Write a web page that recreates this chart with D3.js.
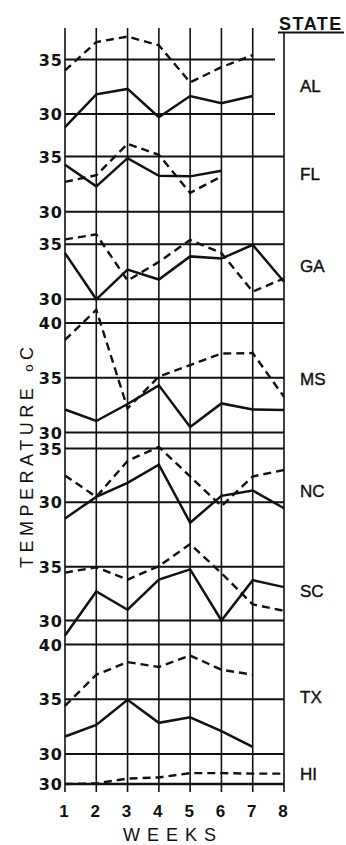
<!DOCTYPE html>
<html>
<head>
<meta charset="utf-8">
<script src="https://cdn.jsdelivr.net/npm/d3@7"></script>
<style>
  html, body { margin: 0; padding: 0; background: #fff; }
  svg { display: block; }
  .grid { stroke: #111; fill: none; }
  .tick-label { font-family: 'DejaVu Sans', sans-serif; font-weight: bold; font-size: 16px; fill: #111; letter-spacing: 1px; }
  .state-label { font-family: 'Liberation Sans', Arial, sans-serif; font-size: 17px; fill: #111; stroke: #111; stroke-width: 0.4px; }
  .week-label { font-family: 'Liberation Sans', Arial, sans-serif; font-weight: bold; font-size: 17px; fill: #111; }
  .title { font-family: 'Liberation Sans', Arial, sans-serif; font-size: 18px; fill: #111; }
</style>
</head>
<body>
<script>
// weekly temperatures (deg C) per state, solid = one series, dashed = the other
const weeks = [1, 2, 3, 4, 5, 6, 7, 8];
const states = ['AL', 'FL', 'GA', 'MS', 'NC', 'SC', 'TX', 'HI'];

const solidAL = [28.8, 31.8, 32.3, 29.7, 31.65, 31.0, 31.65, null];
const dashedAL = [34.0, 36.6, 37.1, 36.3, 32.9, 34.3, 35.4, null];
const solidFL = [34.25, 32.3, 34.85, 33.25, 33.2, 33.7, null, null];
const dashedFL = [32.7, 33.3, 36.15, 35.15, 31.7, 33.2, null, null];
const solidGA = [34.2, 30.0, 32.7, 31.8, 33.9, 33.7, 34.95, 31.6];
const dashedGA = [35.45, 35.9, 31.7, 33.4, 35.4, 34.2, 30.7, 31.9];
const solidMS = [32.1, 31.05, 32.6, 34.3, 30.5, 32.65, 32.1, 32.05];
const dashedMS = [38.45, 41.2, 32.2, 35.1, 36.15, 37.2, 37.25, 33.25];
const solidNC = [28.5, 30.5, 31.8, 33.5, 28.1, 30.6, 31.1, 29.45];
const dashedNC = [32.5, 30.5, 33.85, 35.15, 32.4, 29.65, 32.4, 33.0];
const solidSC = [28.6, 32.7, 31.0, 33.8, 34.75, 30.0, 33.75, 33.1];
const dashedSC = [34.45, 34.95, 33.8, 35.05, 37.1, 34.4, 31.5, 30.9];
const solidTX = [31.6, 32.65, 34.95, 32.85, 33.35, 32.1, 30.65, null];
const dashedTX = [34.4, 37.25, 38.4, 37.95, 39.0, 37.7, 37.25, null];
const solidHI = [30, 30, 30, 30, 30, 30, 30, 30];
const dashedHI = [30.0, 30.05, 30.5, 30.6, 31.0, 31.0, 30.95, 30.95];

const ticksAL = [35, 30];
const ticksFL = [35, 30];
const ticksGA = [35, 30];
const ticksMS = [40, 35, 30];
const ticksNC = [35, 30];
const ticksSC = [35, 30];
const ticksTX = [40, 35, 30];
const ticksHI = [30];

const series = {
  AL: [solidAL, dashedAL, ticksAL], FL: [solidFL, dashedFL, ticksFL],
  GA: [solidGA, dashedGA, ticksGA], MS: [solidMS, dashedMS, ticksMS],
  NC: [solidNC, dashedNC, ticksNC], SC: [solidSC, dashedSC, ticksSC],
  TX: [solidTX, dashedTX, ticksTX], HI: [solidHI, dashedHI, ticksHI]
};

// panel layout: pixel y of the 30 and 35 lines, label baseline, grid end
const layout = {
  AL: { y30: 114, y35: 59.5, labelY: 92, gridEnd: 275 },
  FL: { y30: 211.7, y35: 156.5, labelY: 180 },
  GA: { y30: 299.3, y35: 244.3, labelY: 272 },
  MS: { y30: 432.5, y35: 377.7, labelY: 385 },
  NC: { y30: 502.3, y35: 448.5, labelY: 497 },
  SC: { y30: 620.5, y35: 566.7, labelY: 597 },
  TX: { y30: 754, y35: 699.3, labelY: 703 },
  HI: { y30: 784, y35: 729.5, labelY: 780 }
};

const width = 346, height = 845;
const svg = d3.select('body').append('svg')
  .attr('width', width)
  .attr('height', height);

const x = d3.scaleLinear().domain([1, 8]).range([65, 284]);

// vertical week lines
svg.append('g').selectAll('line').data(weeks).enter().append('line')
  .attr('class', 'grid')
  .attr('x1', d => x(d)).attr('x2', d => x(d))
  .attr('y1', d => d === 8 ? 32 : 28).attr('y2', 792)
  .attr('stroke-width', 1.6);

states.forEach(st => {
  const [solid, dashed, ticks] = series[st];
  const L = layout[st];
  const y = d3.scaleLinear().domain([30, 35]).range([L.y30, L.y35]);
  const g = svg.append('g').attr('class', 'panel-' + st);
  const gridEnd = L.gridEnd || x(8);

  g.selectAll('line.h').data(ticks).enter().append('line')
    .attr('class', 'grid h')
    .attr('x1', x(1)).attr('x2', gridEnd)
    .attr('y1', d => y(d)).attr('y2', d => y(d))
    .attr('stroke-width', 2);

  g.selectAll('text.tick-label').data(ticks).enter().append('text')
    .attr('class', 'tick-label')
    .attr('x', 63).attr('y', d => y(d) + 6)
    .attr('text-anchor', 'end')
    .text(d => d);

  const line = d3.line()
    .defined(d => d[1] !== null)
    .x(d => x(d[0]))
    .y(d => y(d[1]));

  g.append('path')
    .datum(weeks.map((w, i) => [w, solid[i]]))
    .attr('d', line)
    .attr('fill', 'none').attr('stroke', '#111')
    .attr('stroke-width', 2.5).attr('stroke-linejoin', 'miter');

  g.append('path')
    .datum(weeks.map((w, i) => [w, dashed[i]]))
    .attr('d', line)
    .attr('fill', 'none').attr('stroke', '#111')
    .attr('stroke-width', 2.4).attr('stroke-dasharray', '8,5');

  g.append('text')
    .attr('class', 'state-label')
    .attr('x', 300).attr('y', L.labelY)
    .text(st);
});

// week numbers
svg.append('g').selectAll('text').data(weeks).enter().append('text')
  .attr('class', 'week-label')
  .attr('x', d => x(d) - 1).attr('y', 817)
  .attr('text-anchor', 'middle')
  .text(d => d);

svg.append('text')
  .attr('class', 'title')
  .attr('x', 173).attr('y', 841)
  .attr('text-anchor', 'middle')
  .style('letter-spacing', '7px')
  .text('WEEKS');

const yTitle = svg.append('text')
  .attr('class', 'title')
  .attr('transform', 'translate(33,568) rotate(-90)')
  .style('letter-spacing', '4.5px');
yTitle.append('tspan').text('TEMPERATURE');
yTitle.append('tspan').attr('dx', 12).style('font-size', '13px').text('o');
yTitle.append('tspan').text('C');

svg.append('text')
  .attr('class', 'title')
  .attr('x', 279).attr('y', 30)
  .style('font-weight', 'bold')
  .style('letter-spacing', '1.5px')
  .text('STATE');
svg.append('line')
  .attr('class', 'grid')
  .attr('x1', 278).attr('x2', 344)
  .attr('y1', 32.5).attr('y2', 32.5)
  .attr('stroke-width', 2);
</script>
</body>
</html>
